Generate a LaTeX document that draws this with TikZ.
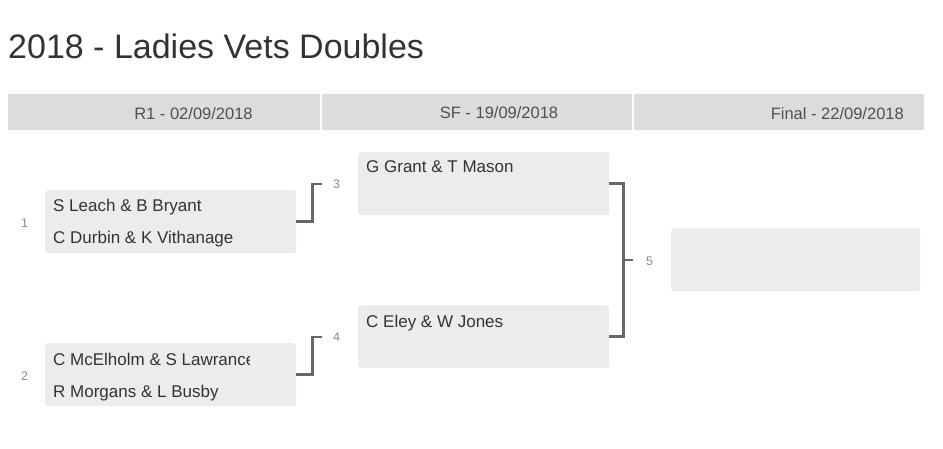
\documentclass[tikz,border=0pt]{standalone}
\usepackage{fontspec}
\setmainfont{Liberation Sans}
\definecolor{hdr}{HTML}{DCDCDC}
\definecolor{boxfill}{HTML}{ECECEC}
\definecolor{boxline}{HTML}{F0F0F0}
\definecolor{txt}{HTML}{333333}
\definecolor{hdrtxt}{HTML}{505050}
\definecolor{lbl}{HTML}{8A8A8A}
\definecolor{conn}{HTML}{666666}
\tikzset{
  hdrbox/.style={fill=hdr, draw=none, anchor=north west, minimum height=36pt, inner sep=0pt},
  matchbox/.style={fill=boxfill, draw=none, rounded corners=3pt, anchor=north west, minimum width=251pt, minimum height=63pt, inner sep=0pt},
  nametext/.style={anchor=base west, inner sep=0pt, text=txt, font=\fontsize{17}{20}\selectfont},
  hdrtext/.style={anchor=base, inner sep=0pt, text=hdrtxt, font=\fontsize{16.5}{20}\selectfont},
  numlbl/.style={inner sep=0pt, text=lbl, font=\fontsize{12.5}{14}\selectfont},
  connector/.style={draw=conn, line width=2.6pt},
  rowline/.style={draw=boxline, line width=0.5pt}
}
\begin{document}
\begin{tikzpicture}[x=1pt,y=-1pt]
\useasboundingbox (0,0) rectangle (943,449);
% title
\node[anchor=base west, inner sep=0pt, text=txt, font=\fontsize{34}{40}\selectfont] (title) at (8,59) {2018 - Ladies Vets Doubles};
% header
\node[hdrbox, minimum width=312pt] (h1) at (8,94) {};
\node[hdrbox, minimum width=310pt] (h2) at (322,94) {};
\node[hdrbox, minimum width=290pt] (h3) at (634,94) {};
\node[hdrtext] (h1t) at (193.5,119.5) {R1 - 02/09/2018};
\node[hdrtext] (h2t) at (499,118.5) {SF - 19/09/2018};
\node[hdrtext, anchor=base east] (h3t) at (904,119.5) {Final - 22/09/2018};
% round 1 boxes
\node[matchbox] (m1) at (45,190) {};
\node[matchbox] (m2) at (45,343) {};
\draw[rowline] (48,221.5) -- (293,221.5);
\draw[rowline] (48,374.5) -- (293,374.5);
\node[nametext] (m1a) at (53,212) {S Leach \& B Bryant};
\node[nametext] (m1b) at (53,244) {C Durbin \& K Vithanage};
\begin{scope}
\clip (45,343) rectangle (249,406);
\node[nametext] (m2a) at (53,365) {C McElholm \& S Lawrance};
\end{scope}
\node[nametext] (m2b) at (53,397) {R Morgans \& L Busby};
\node[numlbl] (n1) at (24.5,223) {1};
\node[numlbl] (n2) at (24.5,376) {2};
% semi-final boxes
\node[matchbox] (s3) at (358,152) {};
\node[matchbox] (s4) at (358,305) {};
\draw[rowline] (361,183.5) -- (606,183.5);
\draw[rowline] (361,336.5) -- (606,336.5);
\node[nametext] (s3a) at (366,173) {G Grant \& T Mason};
\node[nametext] (s4a) at (366,327) {C Eley \& W Jones};
\node[numlbl] (n3) at (336.5,184.5) {3};
\node[numlbl] (n4) at (336.5,337.5) {4};
% final box
\node[matchbox, minimum width=249pt] (f5) at (671,228) {};
\draw[rowline] (674,259.5) -- (917,259.5);
\node[numlbl] (n5) at (649.5,261) {5};
% connectors
\coordinate (j3) at (322,184);
\coordinate (j4) at (322,337);
\coordinate (j5) at (633,260);
\draw[connector] (m1.east) -- ++(16,0) |- (j3);
\draw[connector] (m2.east) -- ++(16,0) |- (j4);
\draw[connector] (s3.east) -- ++(14,0) |- (s4.east);
\draw[connector] (j5) -- ++(-11,0);
\end{tikzpicture}
\end{document}
